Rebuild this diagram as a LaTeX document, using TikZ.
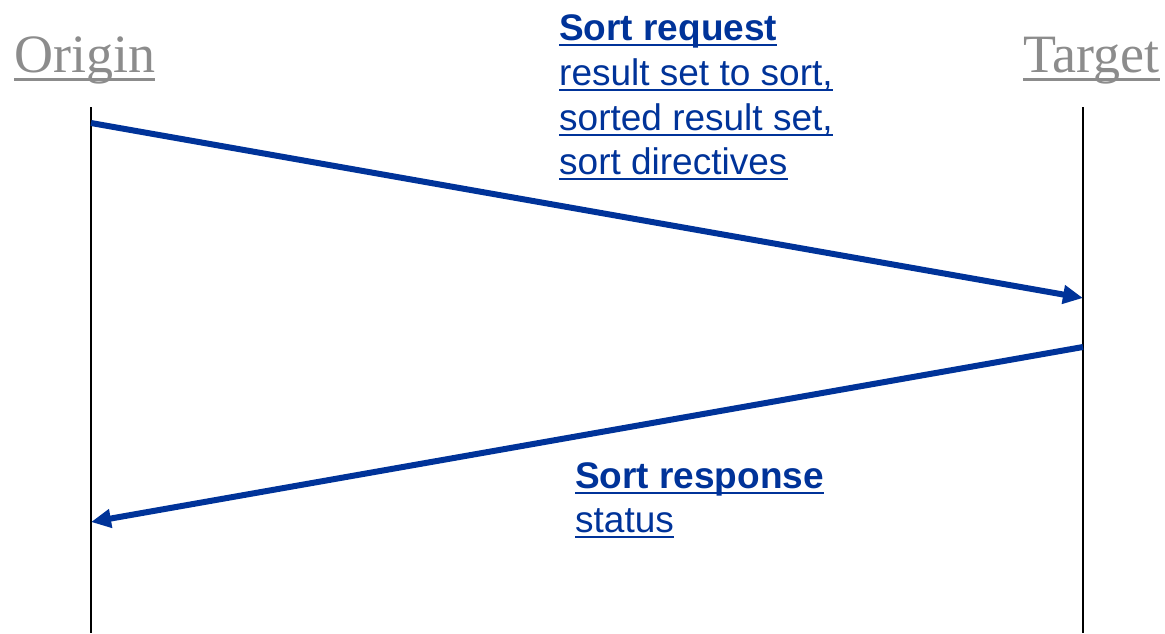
\documentclass[tikz,border=0pt]{standalone}
\usepackage{fontspec}
\setmainfont{Liberation Sans}
\newfontfamily\headfont{Liberation Serif}
\usetikzlibrary{arrows.meta}
\definecolor{msgblue}{HTML}{003399}
\definecolor{headgray}{HTML}{8C8C8C}
\tikzset{
  lifeline/.style={line width=1.4pt, black},
  message/.style={line width=6pt, msgblue, -{Triangle[length=20pt,width=18pt]}},
  headlabel/.style={inner sep=0pt, anchor=base west, text=headgray,
    font=\headfont\fontsize{54}{60}\selectfont},
  msgtext/.style={inner sep=0pt, anchor=base west, text=msgblue,
    font=\fontsize{37}{45}\selectfont},
  msgtitle/.style={msgtext, font=\bfseries\fontsize{37}{45}\selectfont},
  headrule/.style={line width=3pt, headgray},
  textrule/.style={line width=2.6pt, msgblue}
}
\newcommand{\rulebelow}[3]{\draw[#1] ([yshift=#2]#3.base west) -- ([yshift=#2]#3.base east);}
\begin{document}
\begin{tikzpicture}[x=1pt,y=-1pt]
  \useasboundingbox (0,0) rectangle (1165,633);

  % participants
  \node[headlabel] (origin) at (14,72) {Origin};
  \node[headlabel] (target) at (1023,72) {Target};
  \rulebelow{headrule}{-7pt}{origin}
  \rulebelow{headrule}{-7pt}{target}

  % lifelines
  \coordinate (o-top) at (91,107);
  \coordinate (o-bot) at (91,633);
  \coordinate (t-top) at (1083,107);
  \coordinate (t-bot) at (1083,633);
  \draw[lifeline] (o-top) -- (o-bot);
  \draw[lifeline] (t-top) -- (t-bot);

  % messages
  \coordinate (req-start) at (91,123);
  \coordinate (req-end) at (1083,298);
  \coordinate (resp-start) at (1083,347);
  \coordinate (resp-end) at (91,522);
  \draw[message] (req-start) -- (req-end);
  \draw[message] (resp-start) -- (resp-end);

  % request label
  \node[msgtitle] (rq1) at (559,40) {Sort request};
  \node[msgtext]  (rq2) at (559,85) {result set to sort,};
  \node[msgtext]  (rq3) at (559,130) {sorted result set,};
  \node[msgtext]  (rq4) at (559,174) {sort directives};
  \foreach \n in {rq1,rq2,rq3,rq4} { \rulebelow{textrule}{-5pt}{\n} }

  % response label
  \node[msgtitle] (rs1) at (575,488) {Sort response};
  \node[msgtext]  (rs2) at (575,532) {status};
  \foreach \n in {rs1,rs2} { \rulebelow{textrule}{-5pt}{\n} }
\end{tikzpicture}
\end{document}
